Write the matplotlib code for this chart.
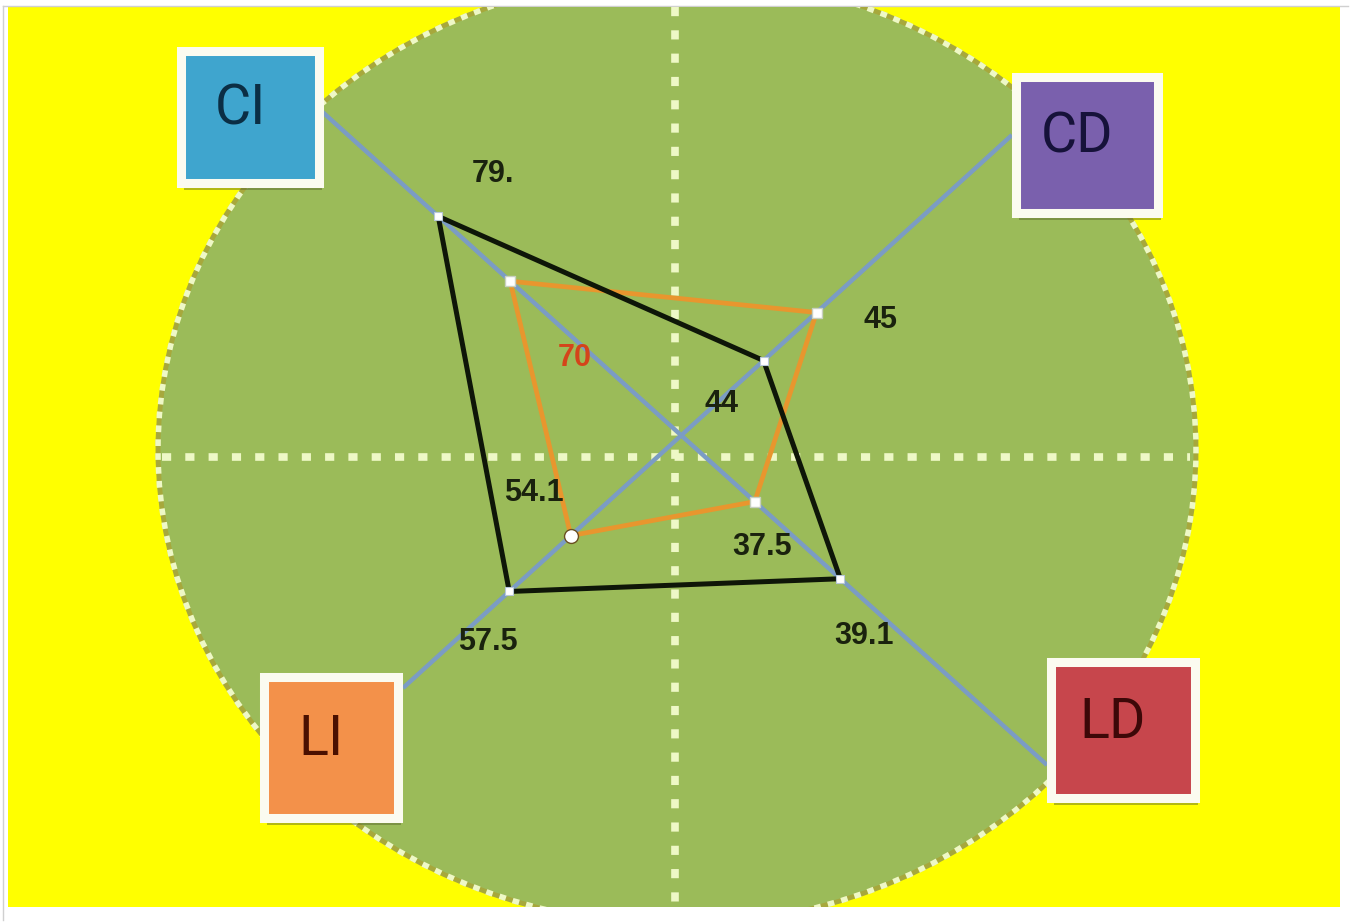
import numpy as np
import matplotlib
matplotlib.use("Agg")
from matplotlib import pyplot as plt
from matplotlib.patches import Ellipse, Rectangle

# four axes of the diagram, in drawing order around the shape
axis_names = ["CI", "CD", "LD", "LI"]

black_values = [79, 44, 39.1, 57.5]
black_labels = ["79.", "44", "39.1", "57.5"]
orange_values = [70, 45, 37.5, 54.1]
orange_labels = ["70", "45", "37.5", "54.1"]

# share of each axis (from the crossing point) where the value was drawn
black_pos = [0.669, 0.249, 0.435, 0.618]
orange_pos = [0.471, 0.409, 0.201, 0.397]

# ---- layout, in pixels of the 1351x922 picture ----
W, H = 1351, 922
box_center = {"CI": (250, 117), "CD": (1087, 145), "LD": (1123, 730), "LI": (331, 747)}
box_size = {"CI": (138, 132), "CD": (142, 136), "LD": (144, 136), "LI": (134, 141)}
box_color = {"CI": "#3fa5ce", "CD": "#7a60ad", "LD": "#c7464c", "LI": "#f3914a"}
box_text = {"CI": "#0b2e44", "CD": "#16123a", "LD": "#3d0808", "LI": "#4a1000"}
axis_end = {"CI": (318, 108), "CD": (1012, 135), "LD": (1047, 765), "LI": (403, 688)}

black_off = [(55, -42), (-42, 43), (24, 57), (-21, 51)]
orange_off = [(65, 77), (64, 7), (7, 45), (-37, -43)]
orange_marker = ["s", "s", "s", "o"]

green = "#9bbb59"
dot_col = "#eef8c6"


def crossing(p1, p2, q1, q2):
    p1, p2, q1, q2 = map(np.array, (p1, p2, q1, q2))
    d1, d2 = p2 - p1, q2 - q1
    t, s = np.linalg.solve(np.column_stack([d1, -d2]), q1 - p1)
    return p1 + t * d1


centre = crossing(axis_end["CI"], axis_end["LD"], axis_end["CD"], axis_end["LI"])


def along(name, frac):
    end = np.array(axis_end[name])
    return centre + frac * (end - centre)


fig = plt.figure(figsize=(W / 100, H / 100), dpi=100)
fig.patch.set_facecolor("white")
ax = fig.add_axes([0, 0, 1, 1])
ax.set_xlim(0, W)
ax.set_ylim(H, 0)
ax.axis("off")

# yellow page and thin frame
bg = Rectangle((8, 7), 1332, 900, facecolor="#ffff00", edgecolor="none", zorder=0)
ax.add_patch(bg)
ax.plot([3, 1348], [6, 6], color="#d0d0d0", lw=1, zorder=0)
ax.plot([3, 3], [6, 920], color="#d0d0d0", lw=1, zorder=0)

# green disc with dotted rim
disc = Ellipse((677, 450), 1038, 950, facecolor=green, edgecolor="none", zorder=1)
ax.add_patch(disc)
disc.set_clip_path(bg)
rim = Ellipse((677, 450), 1038, 950, fill=False, edgecolor="#a7a83c", lw=3.5, zorder=2)
ax.add_patch(rim)
rim.set_clip_path(bg)
rim2 = Ellipse((677, 450), 1038, 950, fill=False, edgecolor=dot_col, lw=4,
               linestyle=(0, (1.2, 1.3)), zorder=3)
ax.add_patch(rim2)
rim2.set_clip_path(bg)

# dotted cross
v, = ax.plot([675, 675], [7, 906], color=dot_col, lw=5.5, linestyle=(0, (1.2, 1.85)), zorder=3)
v.set_clip_path(bg)
ax.plot([162, 1190], [457, 457], color=dot_col, lw=5.5, linestyle=(0, (1.2, 1.85)), zorder=3)

# diagonal axes
for a, b in [("CI", "LD"), ("CD", "LI")]:
    ax.plot([axis_end[a][0], axis_end[b][0]], [axis_end[a][1], axis_end[b][1]],
            color="#7b9cc4", lw=3.2, zorder=4, solid_capstyle="butt")

# the two shapes
bpts = np.array([along(n, f) for n, f in zip(axis_names, black_pos)])
opts = np.array([along(n, f) for n, f in zip(axis_names, orange_pos)])
oc = np.vstack([opts, opts[:1]])
bc = np.vstack([bpts, bpts[:1]])
ax.plot(oc[:, 0], oc[:, 1], color="#e8962e", lw=3.4, zorder=5, solid_joinstyle="miter")
ax.plot(bc[:, 0], bc[:, 1], color="#0e1608", lw=3.6, zorder=6, solid_joinstyle="miter")

ax.plot(bpts[:, 0], bpts[:, 1], "s", color="white", ms=5.5, mec="#b8c8d8", mew=0.8, zorder=7)
for (x, y), m in zip(opts, orange_marker):
    ax.plot(x, y, m, color="white", ms=7 if m == "s" else 10,
            mec="#6a5020" if m == "o" else "#c8d0c0", mew=1, zorder=7)

val_font = dict(family="Liberation Sans", weight="bold", fontsize=22, ha="center", va="center", zorder=8)
for (x, y), lab, (dx, dy) in zip(bpts, black_labels, black_off):
    ax.text(x + dx, y + dy, lab, color="#1a220e", **val_font)
for (x, y), lab, (dx, dy), i in zip(opts, orange_labels, orange_off, range(4)):
    ax.text(x + dx, y + dy, lab, color="#d4441a" if i == 0 else "#1a220e", **val_font)

# label boxes
for name in axis_names:
    cx, cy = box_center[name]
    w, h = box_size[name]
    ax.add_patch(Rectangle((cx - w / 2 + 3, cy - h / 2 + 7), w, h, facecolor="#56622a",
                           edgecolor="none", alpha=0.45, zorder=9))
    ax.add_patch(Rectangle((cx - w / 2, cy - h / 2), w, h, facecolor=box_color[name],
                           edgecolor="#fbfbf0", lw=6.5, zorder=10))
    ax.text(cx - 10, cy - 8, name, family="Roboto", fontsize=40, color=box_text[name],
            ha="center", va="center", zorder=11)

fig.savefig("out.png", dpi=100, facecolor=fig.get_facecolor())
